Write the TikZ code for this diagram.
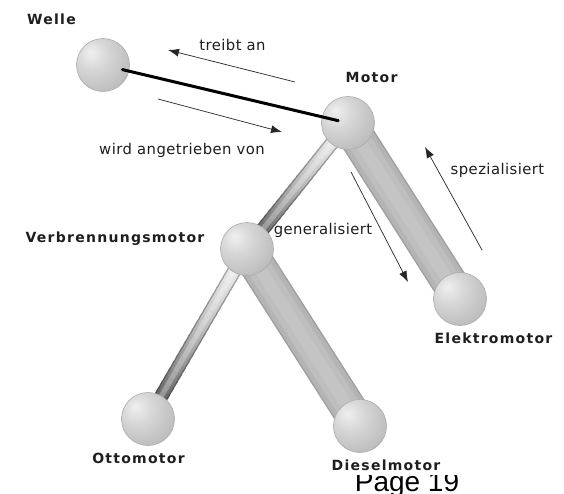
\documentclass[tikz,border=0pt]{standalone}
\usepackage{fontspec}
\setmainfont{DejaVu Sans}
\newfontfamily\pagefont{Liberation Sans}
\usetikzlibrary{arrows.meta,calc}
\definecolor{sphA}{HTML}{EFEFEF}
\definecolor{sphB}{HTML}{D6D6D6}
\definecolor{sphC}{HTML}{B8B8B8}
\definecolor{sphD}{HTML}{8E8E8E}
\definecolor{rodE}{HTML}{A0A0A0}
\definecolor{rodM}{HTML}{B4B4B4}
\definecolor{rodI}{HTML}{BEBEBE}
\definecolor{rodC}{HTML}{C4C4C4}
\definecolor{thinTop}{HTML}{EEEEEE}
\definecolor{thinBot}{HTML}{4C4C4C}
\definecolor{txt}{HTML}{1E1E1E}
\pgfdeclareradialshading{sphereshade}{\pgfpoint{-12bp}{12bp}}{color(0bp)=(sphA); color(15bp)=(sphB); color(38bp)=(sphC); color(62bp)=(sphD); color(90bp)=(sphD)}
\tikzset{
  sphere/.style={circle, minimum size=53pt, inner sep=0pt, shading=sphereshade, draw=gray!65, line width=0.6pt},
  anchorball/.style={circle, minimum size=53pt, inner sep=0pt},
  namelbl/.style={font=\fontsize{14}{16}\selectfont\bfseries\addfontfeature{LetterSpace=9}, text=txt, anchor=base, inner sep=0pt},
  rellbl/.style={font=\fontsize{14.8}{16}\selectfont\addfontfeature{LetterSpace=3}, text=txt, anchor=base, inner sep=0pt},
  relarrow/.style={-{Latex[length=11pt,width=8pt]}, line width=0.7pt, black!85},
  drives/.style={line width=3pt, black, line cap=round},
}
\newcommand\widerod[2]{%
  \draw[line width=36pt, rodE] (#1.center) -- (#2.center);
  \draw[line width=33pt, rodM] (#1.center) -- (#2.center);
  \draw[line width=24pt, rodI] (#1.center) -- (#2.center);
  \draw[line width=12pt, rodC] (#1.center) -- (#2.center);
}
\newcommand\thinrod[2]{%
  \foreach \i in {0,...,24} {
    \pgfmathsetmacro\pa{\i/25}
    \pgfmathsetmacro\pb{min((\i+1.5)/25,1)}
    \pgfmathsetmacro\mix{100*(1-(\i/24)^1.5)}
    \draw[line width=14pt, color=thinTop!\mix!thinBot!72!black] ($(#1.center)!\pa!(#2.center)$) -- ($(#1.center)!\pb!(#2.center)$);
  }
  \foreach \i in {0,...,24} {
    \pgfmathsetmacro\pa{\i/25}
    \pgfmathsetmacro\pb{min((\i+1.5)/25,1)}
    \pgfmathsetmacro\mix{100*(1-(\i/24)^1.5)}
    \draw[line width=11pt, color=thinTop!\mix!thinBot] ($(#1.center)!\pa!(#2.center)$) -- ($(#1.center)!\pb!(#2.center)$);
  }
  \foreach \i in {0,...,24} {
    \pgfmathsetmacro\pa{\i/25}
    \pgfmathsetmacro\pb{min((\i+1.5)/25,1)}
    \pgfmathsetmacro\mix{100*(1-(\i/24)^1.5)}
    \draw[line width=5pt, color=thinTop!\mix!thinBot!70!white] ($(#1.center)!\pa!(#2.center)$) -- ($(#1.center)!\pb!(#2.center)$);
  }
}
\begin{document}
\begin{tikzpicture}[x=1pt,y=-1pt]
\useasboundingbox[fill=white] (0,0) rectangle (564,494);
% sphere positions
\coordinate (pw) at (103,65);
\coordinate (pm) at (348,123);
\coordinate (pv) at (247,249);
\coordinate (pe) at (460,299);
\coordinate (po) at (148,419);
\coordinate (pd) at (360,426);
% anchors for rods
\node[anchorball] (motor) at (pm) {};
\node[anchorball] (verb) at (pv) {};
\node[anchorball] (elektro) at (pe) {};
\node[anchorball] (otto) at (po) {};
\node[anchorball] (diesel) at (pd) {};
\node[anchorball] (welle) at (pw) {};
% rods
\widerod{motor}{elektro}
\widerod{verb}{diesel}
\thinrod{motor}{verb}
\thinrod{verb}{otto}
% spheres
\node[sphere] (swelle) at (pw) {};
\node[sphere] (smotor) at (pm) {};
\node[sphere] (sverb) at (pv) {};
\node[sphere] (selektro) at (pe) {};
\node[sphere] (sotto) at (po) {};
\node[sphere] (sdiesel) at (pd) {};
% drive connection
\draw[drives, shorten <=20pt, shorten >=10pt] (welle.center) -- (motor.center);
% relation arrows
\coordinate (ta1) at (295,82);  \coordinate (ta2) at (168,50);
\coordinate (wa1) at (158,99);  \coordinate (wa2) at (282,132);
\coordinate (ga1) at (351,172); \coordinate (ga2) at (408,282);
\coordinate (sa1) at (482,250); \coordinate (sa2) at (425,147);
\draw[relarrow] (ta1) -- (ta2);
\draw[relarrow] (wa1) -- (wa2);
\draw[relarrow] (ga1) -- (ga2);
\draw[relarrow] (sa1) -- (sa2);
% labels
\node[namelbl] (lw) at (51.5,25) {Welle};
\node[namelbl] (lm) at (371.5,83) {Motor};
\node[namelbl] (lv) at (115,242) {Verbrennungsmotor};
\node[namelbl] (le) at (493.5,343) {Elektromotor};
\node[namelbl] (lo) at (138.5,463) {Ottomotor};
\node[namelbl] (ld) at (386,470) {Dieselmotor};
\node[rellbl] (lta) at (232.5,51) {treibt an};
\node[rellbl] (lwa) at (182,155) {wird angetrieben von};
\node[rellbl] (lsp) at (497.5,175) {spezialisiert};
\node[rellbl] (lge) at (323,234) {generalisiert};
\begin{scope}
\clip (330,475.5) rectangle (490,494);
\node[font=\pagefont\fontsize{28}{30}\selectfont, anchor=base, inner sep=0pt] (page) at (407,491) {Page 19};
\end{scope}
\end{tikzpicture}
\end{document}
